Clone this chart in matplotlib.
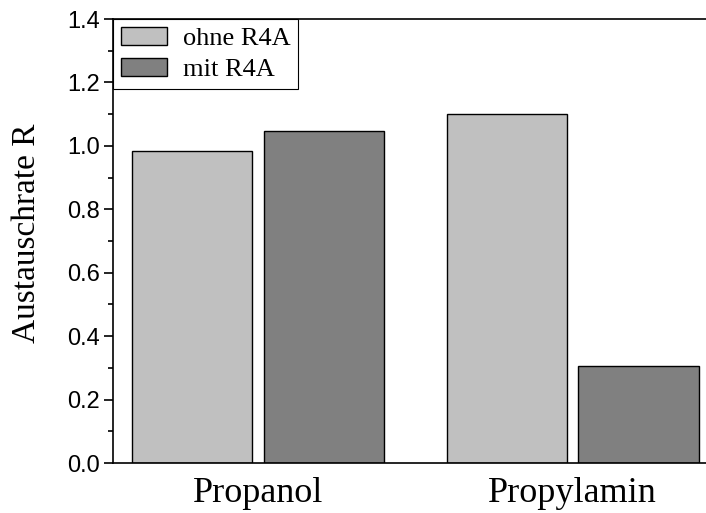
import matplotlib
matplotlib.use("Agg")
import matplotlib.pyplot as plt
import numpy as np
from matplotlib.ticker import MultipleLocator

categories = ["Propanol", "Propylamin"]
series_names = ["ohne R4A", "mit R4A"]
ohne = [0.985, 1.10]
mit = [1.047, 0.306]
colors = ["#C0C0C0", "#808080"]
yticks = [0.0, 0.2, 0.4, 0.6, 0.8, 1.0, 1.2, 1.4]

fig = plt.figure(figsize=(7.06, 5.13), dpi=100)
ax = fig.add_axes([113/706, 1-463/513, (717.5-113)/706, 444/513])

x = np.arange(len(categories))
w = 0.3816
gap = 0.038
ax.bar(x - (w+gap)/2, ohne, w, color=colors[0], edgecolor="black", linewidth=1.0, label=series_names[0])
ax.bar(x + (w+gap)/2, mit, w, color=colors[1], edgecolor="black", linewidth=1.0, label=series_names[1])

ax.set_xlim(-0.461, 1.461)
ax.set_ylim(0, 1.4)
ax.yaxis.set_minor_locator(MultipleLocator(0.1))
ax.set_yticks(yticks)
ax.set_yticklabels([f"{v:.1f}" for v in yticks], family="Liberation Sans", fontsize=17)
ax.tick_params(axis="y", which="major", direction="out", length=6.5, width=1.2, pad=3)
ax.tick_params(axis="y", which="minor", direction="out", length=3.5, width=1.2)
ax.set_xticks(x)
ax.set_xticklabels(categories, family="Liberation Serif", fontsize=26)
ax.tick_params(axis="x", length=0, pad=10)
ax.spines["right"].set_visible(False)
for s in ["left", "bottom", "top"]:
    ax.spines[s].set_linewidth(1.2)

fig.text(27/706, 1-233/513, "Austauschrate R", rotation=90, ha="center", va="center",
         family="Liberation Serif", fontsize=24)

leg = ax.legend(loc="upper left", bbox_to_anchor=(0, 1), borderaxespad=0,
                prop={"family": "Liberation Serif", "size": 19},
                fancybox=False, edgecolor="black", framealpha=1,
                handlelength=1.74, handleheight=0.68, handletextpad=0.6,
                labelspacing=0.3, borderpad=0.3)
leg.get_frame().set_linewidth(0.8)

fig.savefig("out.png", dpi=100)
